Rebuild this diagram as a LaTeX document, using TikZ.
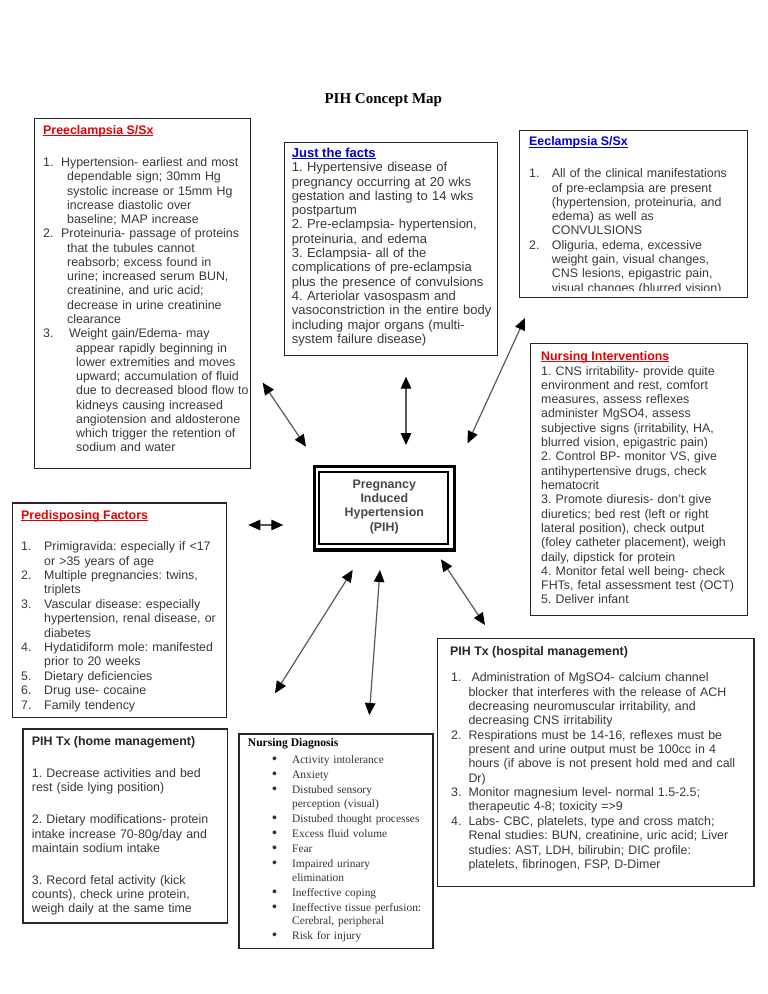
\documentclass[tikz,border=0pt]{standalone}
\usepackage{fontspec}
\setmainfont{Liberation Serif}
\setsansfont{Liberation Sans}
\usetikzlibrary{arrows.meta}
\frenchspacing
\definecolor{txt}{gray}{0.22}
\definecolor{hred}{RGB}{228,0,0}
\definecolor{hblue}{RGB}{0,0,205}
\definecolor{bord}{gray}{0.15}
\definecolor{arrline}{gray}{0.35}
\newcommand\hul[1]{{\setbox0\hbox{#1}\rlap{\rule[-2pt]{\wd0}{1.1pt}}\box0}}
\newcommand\nb[2]{\makebox[#1][l]{#2}}
\newcommand\bul{\makebox[19pt][l]{\hspace*{-1pt}{\sffamily\fontsize{14}{14}\selectfont\textbullet}}}
\tikzset{
  boxframe/.style={draw=bord, line width=1.3pt, inner sep=0pt, anchor=north west},
  bodytxt/.style={anchor=base west, inner sep=0pt, text width=320pt, align=left, text=txt},
  headtxt/.style={anchor=base west, inner sep=0pt, font=\sffamily\bfseries\fontsize{12.4}{14.3}\selectfont},
  dblarrow/.style={draw=arrline, line width=1.2pt,
    arrows={Triangle[length=12pt,width=10.5pt,color=black]-Triangle[length=12pt,width=10.5pt,color=black]}}
}
\begin{document}
\begin{tikzpicture}[x=1pt,y=-1pt]
\useasboundingbox (0,0) rectangle (768,994);
\fill[white] (0,0) rectangle (768,994);

% title
\node[anchor=base, inner sep=0pt, font=\rmfamily\bfseries\fontsize{15}{17}\selectfont] (title) at (383.3,103.3) {PIH Concept Map};

% ---------- Preeclampsia ----------
\node[boxframe, minimum width=216.5pt, minimum height=350.5pt] (prebox) at (33.5,117.5) {};
\node[headtxt, text=hred] (prehead) at (43,134) {\hul{Preeclampsia S/Sx}};
\node[bodytxt, font=\sffamily\fontsize{12.4}{14.27}\selectfont] (prebody) at (43,166.5) {%
\nb{18pt}{1.}Hypertension- earliest and most\\
\hspace*{24pt}dependable sign; 30mm Hg\\
\hspace*{24pt}systolic increase or 15mm Hg\\
\hspace*{24pt}increase diastolic over\\
\hspace*{24pt}baseline; MAP increase\\
\nb{18pt}{2.}Proteinuria- passage of proteins\\
\hspace*{24pt}that the tubules cannot\\
\hspace*{24pt}reabsorb; excess found in\\
\hspace*{24pt}urine; increased serum BUN,\\
\hspace*{24pt}creatinine, and uric acid;\\
\hspace*{24pt}decrease in urine creatinine\\
\hspace*{24pt}clearance\\
\nb{26pt}{3.}Weight gain/Edema- may\\
\hspace*{33pt}appear rapidly beginning in\\
\hspace*{33pt}lower extremities and moves\\
\hspace*{33pt}upward; accumulation of fluid\\
\hspace*{33pt}due to decreased blood flow to\\
\hspace*{33pt}kidneys causing increased\\
\hspace*{33pt}angiotension and aldosterone\\
\hspace*{33pt}which trigger the retention of\\
\hspace*{33pt}sodium and water};

% ---------- Just the facts ----------
\node[boxframe, minimum width=213pt, minimum height=213pt] (factbox) at (284,142) {};
\node[headtxt, text=hblue, font=\sffamily\bfseries\fontsize{13}{14.3}\selectfont] (facthead) at (291.7,157) {\hul{Just the facts}};
\node[bodytxt, font=\sffamily\fontsize{13}{14.3}\selectfont] (factbody) at (291.7,171.7) {%
1. Hypertensive disease of\\
pregnancy occurring at 20 wks\\
gestation and lasting to 14 wks\\
postpartum\\
2. Pre-eclampsia- hypertension,\\
proteinuria, and edema\\
3. Eclampsia- all of the\\
complications of pre-eclampsia\\
plus the presence of convulsions\\
4. Arteriolar vasospasm and\\
vasoconstriction in the entire body\\
including major organs (multi-\\
system failure disease)};

% ---------- Eeclampsia ----------
\node[boxframe, minimum width=228pt, minimum height=167pt] (eclbox) at (519,130) {};
\node[headtxt, text=hblue] (eclhead) at (529,145.7) {\hul{Eeclampsia S/Sx}};
\begin{scope}
\clip (519,130) rectangle (747,290.5);
\node[bodytxt, font=\sffamily\fontsize{12.4}{14.3}\selectfont] (eclbody) at (529,177.7) {%
\nb{22.7pt}{1.}All of the clinical manifestations\\
\hspace*{22.7pt}of pre-eclampsia are present\\
\hspace*{22.7pt}(hypertension, proteinuria, and\\
\hspace*{22.7pt}edema) as well as\\
\hspace*{22.7pt}CONVULSIONS\\
\nb{22.7pt}{2.}Oliguria, edema, excessive\\
\hspace*{22.7pt}weight gain, visual changes,\\
\hspace*{22.7pt}CNS lesions, epigastric pain,\\
\hspace*{22.7pt}visual changes (blurred vision)};
\end{scope}

% ---------- Nursing Interventions ----------
\node[boxframe, minimum width=217pt, minimum height=272pt] (nibox) at (530,343) {};
\node[headtxt, text=hred] (nihead) at (541,360) {\hul{Nursing Interventions}};
\node[bodytxt, font=\sffamily\fontsize{12.4}{14.31}\selectfont] (nibody) at (541,375) {%
1. CNS irritability- provide quite\\
environment and rest, comfort\\
measures, assess reflexes\\
administer MgSO4, assess\\
subjective signs (irritability, HA,\\
blurred vision, epigastric pain)\\
2. Control BP- monitor VS, give\\
antihypertensive drugs, check\\
hematocrit\\
3. Promote diuresis- don't give\\
diuretics; bed rest (left or right\\
lateral position), check output\\
(foley catheter placement), weigh\\
daily, dipstick for protein\\
4. Monitor fetal well being- check\\
FHTs, fetal assessment test (OCT)\\
5. Deliver infant};

% ---------- Predisposing Factors ----------
\node[boxframe, minimum width=214.3pt, minimum height=214.7pt] (prdbox) at (11.7,502.3) {};
\node[headtxt, text=hred] (prdhead) at (21,519) {\hul{Predisposing Factors}};
\node[bodytxt, font=\sffamily\fontsize{12.4}{14.4}\selectfont] (prdbody) at (21,550.7) {%
\nb{23pt}{1.}Primigravida: especially if <17\\
\hspace*{23pt}or >35 years of age\\
\nb{23pt}{2.}Multiple pregnancies: twins,\\
\hspace*{23pt}triplets\\
\nb{23pt}{3.}Vascular disease: especially\\
\hspace*{23pt}hypertension, renal disease, or\\
\hspace*{23pt}diabetes\\
\nb{23pt}{4.}Hydatidiform mole: manifested\\
\hspace*{23pt}prior to 20 weeks\\
\nb{23pt}{5.}Dietary deficiencies\\
\nb{23pt}{6.}Drug use- cocaine\\
\nb{23pt}{7.}Family tendency};

% ---------- PIH Tx home ----------
\node[boxframe, minimum width=204.4pt, minimum height=194pt] (homebox) at (22.3,728.3) {};
\node[headtxt, text=black!85] (homehead) at (31.7,745.7) {PIH Tx (home management)};
\node[bodytxt, font=\sffamily\fontsize{12.4}{14.2}\selectfont] (homebody) at (31.7,777.7) {%
1. Decrease activities and bed\\
rest (side lying position)\\[17.8pt]
2. Dietary modifications- protein\\
intake increase 70-80g/day and\\
maintain sodium intake\\[17.8pt]
3. Record fetal activity (kick\\
counts), check urine protein,\\
weigh daily at the same time};

% ---------- Nursing Diagnosis ----------
\node[boxframe, minimum width=194pt, minimum height=214.7pt] (ndbox) at (238.3,733.3) {};
\node[anchor=base west, inner sep=0pt, text=black, font=\rmfamily\bfseries\fontsize{11.6}{13.7}\selectfont] (ndhead) at (247.7,746.7) {Nursing Diagnosis};
\node[bodytxt, text=black!80, font=\rmfamily\fontsize{11.4}{13.7}\selectfont] (ndbody) at (273,763.8) {%
\bul Activity intolerance\\[1.3pt]
\bul Anxiety\\[1.3pt]
\bul Distubed sensory\\
\hspace*{19pt}perception (visual)\\[1.3pt]
\bul Distubed thought processes\\[1.3pt]
\bul Excess fluid volume\\[1.3pt]
\bul Fear\\[1.3pt]
\bul Impaired urinary\\
\hspace*{19pt}elimination\\[1.3pt]
\bul Ineffective coping\\[1.3pt]
\bul Ineffective tissue perfusion:\\
\hspace*{19pt}Cerebral, peripheral\\[1.3pt]
\bul Risk for injury};

% ---------- PIH Tx hospital ----------
\node[boxframe, minimum width=316.6pt, minimum height=248.3pt] (hospbox) at (436.7,637.7) {};
\node[headtxt, text=black!85] (hosphead) at (450,655.7) {PIH Tx (hospital management)};
\node[bodytxt, font=\sffamily\fontsize{12.4}{14.36}\selectfont] (hospbody) at (451,681.7) {%
\nb{17.3pt}{1.}\hspace*{3pt}Administration of MgSO4- calcium channel\\
\hspace*{17.3pt}blocker that interferes with the release of ACH\\
\hspace*{17.3pt}decreasing neuromuscular irritability, and\\
\hspace*{17.3pt}decreasing CNS irritability\\
\nb{17.3pt}{2.}Respirations must be 14-16, reflexes must be\\
\hspace*{17.3pt}present and urine output must be 100cc in 4\\
\hspace*{17.3pt}hours (if above is not present hold med and call\\
\hspace*{17.3pt}Dr)\\
\nb{17.3pt}{3.}Monitor magnesium level- normal 1.5-2.5;\\
\hspace*{17.3pt}therapeutic 4-8; toxicity =>9\\
\nb{17.3pt}{4.}Labs- CBC, platelets, type and cross match;\\
\hspace*{17.3pt}Renal studies: BUN, creatinine, uric acid; Liver\\
\hspace*{17.3pt}studies: AST, LDH, bilirubin; DIC profile:\\
\hspace*{17.3pt}platelets, fibrinogen, FSP, D-Dimer};

% ---------- central PIH ----------
\node[draw=black, line width=3.3pt, inner sep=0pt, minimum width=140pt, minimum height=83.3pt] (pihouter) at (384.3,508.35) {};
\node[draw=black, line width=2pt, inner sep=0pt, minimum width=129pt, minimum height=72pt] (pihinner) at (383.8,508.3) {};
\node[anchor=base, inner sep=0pt, text width=120pt, align=center, text=black!72, font=\sffamily\bfseries\fontsize{12.4}{14.3}\selectfont] (pih) at (384.3,488.3) {Pregnancy\\Induced\\Hypertension\\(PIH)};

% ---------- arrows ----------
\coordinate (a1) at (262.7,382.7); \coordinate (a2) at (306,446.7);
\coordinate (b1) at (406,376.7);   \coordinate (b2) at (406,445);
\coordinate (c1) at (525,318);     \coordinate (c2) at (467.7,443.3);
\coordinate (d1) at (248.3,525);   \coordinate (d2) at (283.3,525);
\coordinate (e1) at (352.7,570);   \coordinate (e2) at (275,693.3);
\coordinate (f1) at (380,570);     \coordinate (f2) at (369.3,715);
\coordinate (g1) at (441,559.3);   \coordinate (g2) at (485,625);
\draw[dblarrow] (a1) -- (a2);
\draw[dblarrow] (b1) -- (b2);
\draw[dblarrow] (c1) -- (c2);
\draw[dblarrow] (d1) -- (d2);
\draw[dblarrow] (e1) -- (e2);
\draw[dblarrow] (f1) -- (f2);
\draw[dblarrow] (g1) -- (g2);
\end{tikzpicture}
\end{document}
